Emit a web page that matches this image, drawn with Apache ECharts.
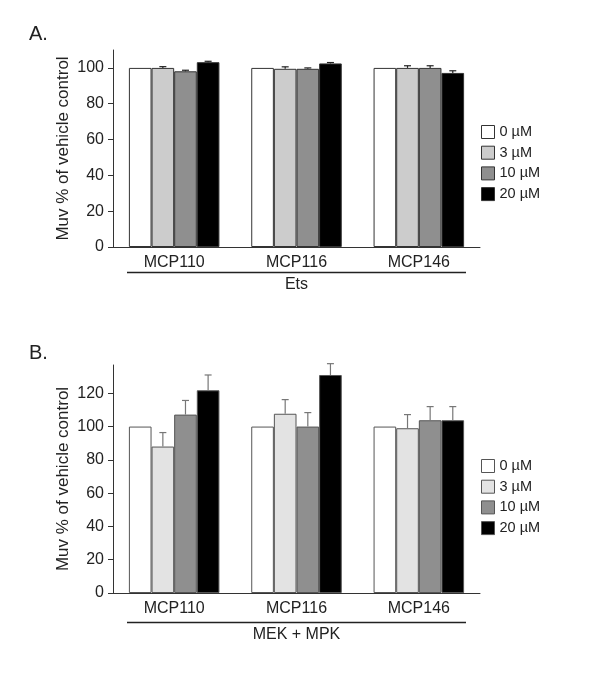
<!DOCTYPE html>
<html>
<head>
<meta charset="utf-8">
<script src="https://cdn.jsdelivr.net/npm/echarts@6/dist/echarts.min.js"></script>
<style>
  html, body { margin: 0; padding: 0; background: #fff; }
  #chart { width: 600px; height: 683px; }
</style>
</head>
<body>
<div id="chart"></div>
<script>
"use strict";

// 类别与图例
const compounds = ['MCP110', 'MCP116', 'MCP146'];
const doses = ['0 µM', '3 µM', '10 µM', '20 µM'];

// A. Ets —— 均值与误差(上方)
const etsMean0 = [100, 100, 100];
const etsMean3 = [100, 99.5, 100];
const etsMean10 = [98.1, 99.5, 100];
const etsMean20 = [103.2, 102.5, 97.2];
const etsErr3 = [0.7, 1.1, 1.2];
const etsErr10 = [0.6, 0.5, 1.2];
const etsErr20 = [0.5, 0.5, 1.2];

// B. MEK + MPK
const mekMean0 = [100, 100, 100];
const mekMean3 = [88, 107.7, 99];
const mekMean10 = [107.2, 100, 103.8];
const mekMean20 = [121.8, 131, 103.8];
const mekErr3 = [8.4, 8.5, 8.2];
const mekErr10 = [8.5, 8.4, 8.2];
const mekErr20 = [9.2, 6.8, 8.2];

// 纵轴刻度
const ticksA = [0, 20, 40, 60, 80, 100];
const ticksB = [0, 20, 40, 60, 80, 100, 120];

const catGap = 0.26;
const font = '"Liberation Sans", Arial, sans-serif';

let myChart = echarts.init(document.getElementById('chart'));

function barSeries(name, data, idx, color, border) {
  return {
    name: name,
    type: 'bar',
    xAxisIndex: idx,
    yAxisIndex: idx,
    data: data,
    barGap: '0%',
    barCategoryGap: (catGap * 100) + '%',
    itemStyle: { color: color, borderColor: border, borderWidth: 1 },
    emphasis: { disabled: true },
  };
}

// 误差线(只画上半部分)
function errSeries(means, errs, k, idx, color) {
  return {
    type: 'custom',
    xAxisIndex: idx,
    yAxisIndex: idx,
    z: 5,
    silent: true,
    data: means.map(function (m, i) { return [i, m, errs[i]]; }),
    renderItem: function (params, api) {
      let base = api.coord([api.value(0), api.value(1)]);
      let tip = api.coord([api.value(0), api.value(1) + api.value(2)]);
      let catW = api.size([1, 0])[0];
      let groupW = catW * (1 - catGap);
      let bw = groupW / 4;
      let x = base[0] - groupW / 2 + bw * (k + 0.5);
      let style = { stroke: color, lineWidth: 1.2 };
      return {
        type: 'group',
        children: [
          { type: 'line', shape: { x1: x, y1: base[1], x2: x, y2: tip[1] }, style: style },
          { type: 'line', shape: { x1: x - 3.5, y1: tip[1], x2: x + 3.5, y2: tip[1] }, style: style },
        ],
      };
    },
  };
}

function yAxis(idx, max, ticks) {
  return {
    type: 'value',
    gridIndex: idx,
    min: 0,
    max: max,
    name: 'Muv % of vehicle control',
    nameLocation: 'middle',
    nameRotate: 90,
    nameGap: 41,
    nameMoveOverlap: false,
    nameTextStyle: { fontSize: 17, color: '#222', fontFamily: font },
    splitLine: { show: false },
    axisLine: { show: true, lineStyle: { color: '#333', width: 1 } },
    axisTick: { show: true, length: 5, customValues: ticks, lineStyle: { color: '#333' } },
    axisLabel: { customValues: ticks, fontSize: 16, color: '#222', margin: 9, fontFamily: font },
  };
}

function xAxis(idx, name, gap) {
  return {
    type: 'category',
    gridIndex: idx,
    data: compounds,
    name: name,
    nameLocation: 'middle',
    nameGap: gap,
    nameMoveOverlap: false,
    nameTextStyle: { fontSize: 16, color: '#222', fontFamily: font },
    axisLine: { lineStyle: { color: '#333', width: 1 } },
    axisTick: { length: 4, lineStyle: { color: '#333' } },
    axisLabel: { fontSize: 16, color: '#222', margin: 8, fontFamily: font },
  };
}

function legend(top, colors, border) {
  return {
    orient: 'vertical',
    left: 481,
    top: top,
    padding: 0,
    itemWidth: 13,
    itemHeight: 13,
    itemGap: 5.7,
    icon: 'rect',
    selectedMode: false,
    textStyle: { fontSize: 14.5, color: '#222', fontFamily: font },
    data: doses.map(function (d, i) {
      return { name: d, itemStyle: { color: colors[i], borderColor: border, borderWidth: 1 } };
    }),
  };
}

const colorsA = ['#ffffff', '#cccccc', '#8f8f8f', '#000000'];
const colorsB = ['#ffffff', '#e3e3e3', '#8f8f8f', '#000000'];

let option = {
  animation: false,
  textStyle: { fontFamily: font },
  title: [
    { text: 'A.', left: 24, top: 19, textStyle: { fontSize: 20, fontWeight: 'normal', color: '#222', fontFamily: font } },
    { text: 'B.', left: 24, top: 338, textStyle: { fontSize: 20, fontWeight: 'normal', color: '#222', fontFamily: font } },
  ],
  grid: [
    { left: 113, width: 367, top: 50, height: 197 },
    { left: 113, width: 367, top: 365, height: 228 },
  ],
  legend: [legend(124.5, colorsA, '#333'), legend(458.5, colorsB, '#555')],
  xAxis: [xAxis(0, 'Ets', 30), xAxis(1, 'MEK + MPK', 34)],
  yAxis: [yAxis(0, 110, ticksA), yAxis(1, 137, ticksB)],
  series: [
    barSeries('0 µM', etsMean0, 0, colorsA[0], '#333'),
    barSeries('3 µM', etsMean3, 0, colorsA[1], '#333'),
    barSeries('10 µM', etsMean10, 0, colorsA[2], '#333'),
    barSeries('20 µM', etsMean20, 0, colorsA[3], '#333'),
    errSeries(etsMean3, etsErr3, 1, 0, '#222'),
    errSeries(etsMean10, etsErr10, 2, 0, '#222'),
    errSeries(etsMean20, etsErr20, 3, 0, '#222'),
    barSeries('0 µM', mekMean0, 1, colorsB[0], '#555'),
    barSeries('3 µM', mekMean3, 1, colorsB[1], '#555'),
    barSeries('10 µM', mekMean10, 1, colorsB[2], '#555'),
    barSeries('20 µM', mekMean20, 1, colorsB[3], '#555'),
    errSeries(mekMean3, mekErr3, 1, 1, '#777'),
    errSeries(mekMean10, mekErr10, 2, 1, '#777'),
    errSeries(mekMean20, mekErr20, 3, 1, '#777'),
  ],
  graphic: [
    { type: 'line', shape: { x1: 127, y1: 272.5, x2: 466, y2: 272.5 }, style: { stroke: '#222', lineWidth: 1.5 } },
    { type: 'line', shape: { x1: 127, y1: 622.5, x2: 466, y2: 622.5 }, style: { stroke: '#222', lineWidth: 1.5 } },
  ],
};

myChart.setOption(option);
</script>
</body>
</html>
